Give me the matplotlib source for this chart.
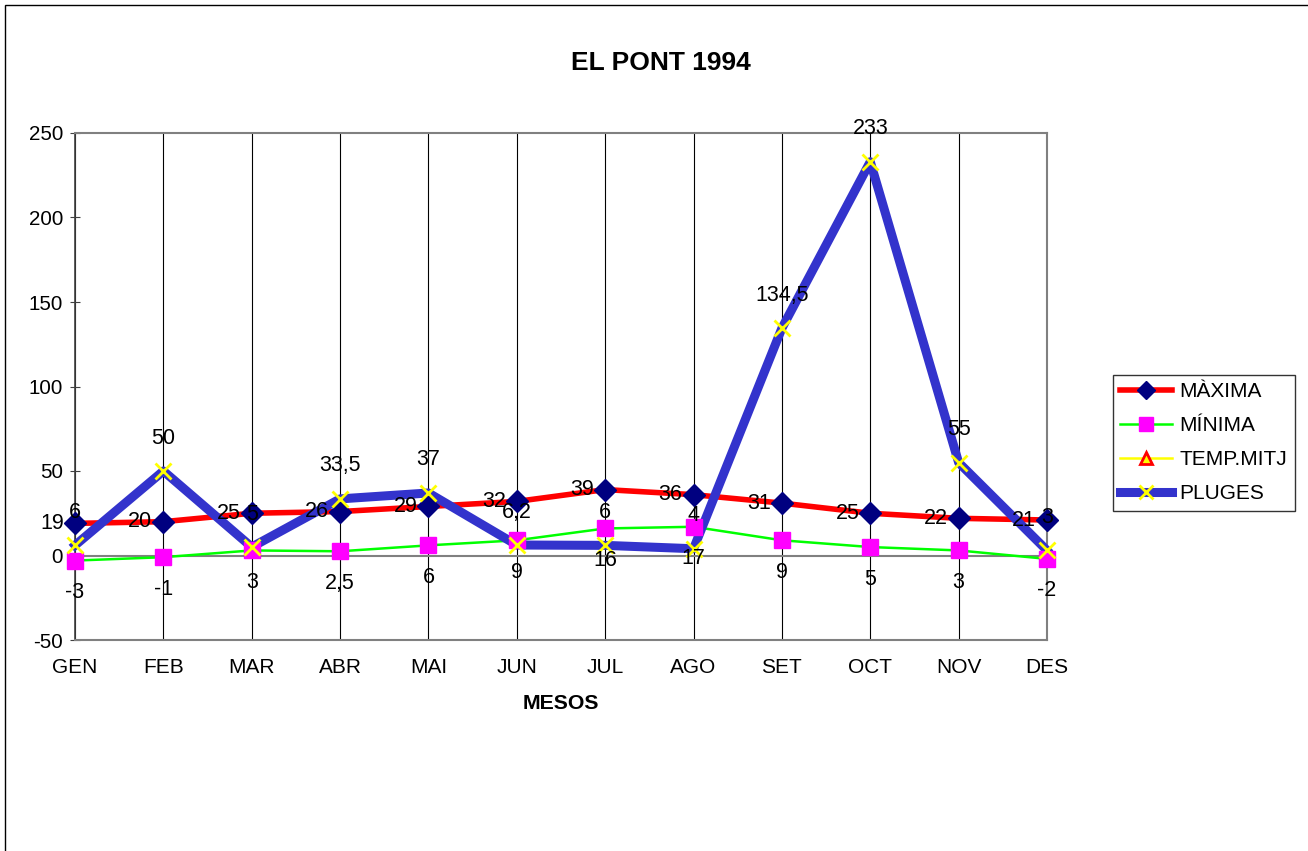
import matplotlib.pyplot as plt
from matplotlib.lines import Line2D
from matplotlib.patches import Rectangle
import numpy as np

plt.rcParams['font.family'] = ['Liberation Sans', 'DejaVu Sans']
plt.rcParams['axes.unicode_minus'] = False

mesos = ['GEN', 'FEB', 'MAR', 'ABR', 'MAI', 'JUN', 'JUL', 'AGO', 'SET', 'OCT', 'NOV', 'DES']
maxima = [19, 20, 25, 26, 29, 32, 39, 36, 31, 25, 22, 21]
minima = [-3, -1, 3, 2.5, 6, 9, 16, 17, 9, 5, 3, -2]
pluges = [6, 50, 5, 33.5, 37, 6.2, 6, 4, 134.5, 233, 55, 3]


def fmt(v):
    # coma decimal, com a l'original
    return ('%g' % v).replace('.', ',')


fig = plt.figure(figsize=(13.08, 8.51), dpi=100)
ax = fig.add_axes([75 / 1308, 1 - 640 / 851, (1047 - 75) / 1308, (640 - 133) / 851])

x = np.arange(len(mesos))

for xi in x:
    ax.axvline(xi, color='black', linewidth=0.8, zorder=0)
ax.axhline(0, color='#808080', linewidth=1.5, zorder=0)

ax.plot(x, maxima, color='#FF0000', linewidth=4, zorder=3, clip_on=False)
ax.plot(x, minima, color='#00FF00', linewidth=1.8, zorder=3, clip_on=False)
ax.plot(x, pluges, color='#3333CC', linewidth=6.5, zorder=4, clip_on=False)

ax.plot(x, maxima, linestyle='none', marker='D', markersize=11, color='#000080', zorder=5, clip_on=False)
ax.plot(x, minima, linestyle='none', marker='s', markersize=11, color='#FF00FF', zorder=5, clip_on=False)
ax.plot(x, pluges, linestyle='none', marker='x', markersize=12, markeredgewidth=2,
        color='#FFFF00', zorder=6, clip_on=False)

fs = 15.5
for xi, v in zip(x, maxima):
    ax.annotate(fmt(v), (xi, v), xytext=(-11, 0), textcoords='offset pixels',
                ha='right', va='center', fontsize=fs, zorder=7, annotation_clip=False)
for xi, v in zip(x, minima):
    ax.annotate(fmt(v), (xi, v), xytext=(0, -32), textcoords='offset pixels',
                ha='center', va='center', fontsize=fs, zorder=7, annotation_clip=False)
for xi, v in zip(x, pluges):
    ax.annotate(fmt(v), (xi, v), xytext=(0, 33), textcoords='offset pixels',
                ha='center', va='center', fontsize=fs, zorder=7, annotation_clip=False)

ax.set_xlim(0, 11)
ax.set_ylim(-50, 250)
ax.set_yticks([-50, 0, 50, 100, 150, 200, 250])
ax.set_xticks(x)
ax.set_xticklabels(mesos)
ax.tick_params(axis='x', length=0, pad=13, labelsize=15)
ax.tick_params(axis='y', length=7, direction='inout', labelsize=14.8, pad=5, color='#404040')
for side in ['right', 'top', 'bottom']:
    ax.spines[side].set_color('#808080')
    ax.spines[side].set_linewidth(1.5)
ax.spines['left'].set_color('#404040')
ax.spines['left'].set_linewidth(1.2)

ax.set_xlabel('MESOS', fontsize=15.3, fontweight='bold', labelpad=12)
fig.text(661 / 1308, 1 - 63 / 851, 'EL PONT 1994', ha='center', va='center',
         fontsize=19, fontweight='bold')

handles = [
    Line2D([], [], color='#FF0000', linewidth=4, marker='D', markersize=9,
           markerfacecolor='#000080', markeredgecolor='#000080'),
    Line2D([], [], color='#00FF00', linewidth=1.8, marker='s', markersize=10,
           markerfacecolor='#FF00FF', markeredgecolor='#FF00FF'),
    Line2D([], [], color='#FFFF00', linewidth=1.8, marker='^', markersize=9,
           markerfacecolor='#FFFF00', markeredgecolor='#FF0000', markeredgewidth=2),
    Line2D([], [], color='#3333CC', linewidth=6.5, marker='x', markersize=10,
           markeredgewidth=2, markeredgecolor='#FFFF00'),
]
leg = fig.legend(handles, ['MÀXIMA', 'MÍNIMA', 'TEMP.MITJ', 'PLUGES'],
                 loc='upper left', bbox_to_anchor=(1113 / 1308, 1 - 375 / 851),
                 fontsize=15, frameon=True, fancybox=False, edgecolor='black',
                 handlelength=2.5, handletextpad=0.35, borderpad=0.35, labelspacing=0.72,
                 borderaxespad=0)
leg.get_frame().set_linewidth(1)

fig.patches.append(Rectangle((5 / 1308, -0.1), 1.2, 1 - 5 / 851 + 0.1, transform=fig.transFigure,
                             fill=False, edgecolor='black', linewidth=1))

fig.savefig('out.png', dpi=100)
